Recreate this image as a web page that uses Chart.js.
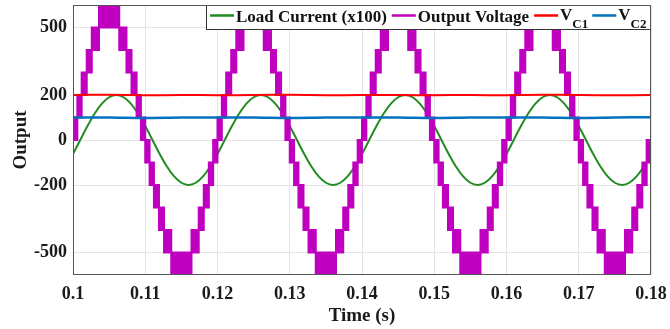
<!DOCTYPE html>
<html><head><meta charset="utf-8">
<script src="https://cdn.jsdelivr.net/npm/chart.js@4.4.1/dist/chart.umd.min.js"></script>
<style>html,body{margin:0;padding:0;background:#fff}#wrap{width:670px;height:329px}</style>
</head><body><div id="wrap"><canvas id="c" width="670" height="329"></canvas></div>
<script>
// ---------- data ----------
const xTicks = [0.1, 0.11, 0.12, 0.13, 0.14, 0.15, 0.16, 0.17, 0.18];
const xTickLabels = ['0.1', '0.11', '0.12', '0.13', '0.14', '0.15', '0.16', '0.17', '0.18'];
const yTicks = [-500, -200, 0, 200, 500];
const yTickLabels = ['-500', '-200', '0', '200', '500'];

// Output voltage: staircase bands (signal switches between voltLow and voltHigh from each time to the next)
const voltTime = [
  0.1000,0.1006,0.1012,0.1019,0.1026,0.1036,0.1064,0.1074,0.1081,0.1088,0.1094,
  0.1100,0.1106,0.1112,0.1119,0.1126,0.1136,0.1164,0.1174,0.1181,0.1188,0.1194,
  0.1200,0.1206,0.1212,0.1219,0.1226,0.1236,0.1264,0.1274,0.1281,0.1288,0.1294,
  0.1300,0.1306,0.1312,0.1319,0.1326,0.1336,0.1364,0.1374,0.1381,0.1388,0.1394,
  0.1400,0.1406,0.1412,0.1419,0.1426,0.1436,0.1464,0.1474,0.1481,0.1488,0.1494,
  0.1500,0.1506,0.1512,0.1519,0.1526,0.1536,0.1564,0.1574,0.1581,0.1588,0.1594,
  0.1600,0.1606,0.1612,0.1619,0.1626,0.1636,0.1664,0.1674,0.1681,0.1688,0.1694,
  0.1700,0.1706,0.1712,0.1719,0.1726,0.1736,0.1764,0.1774,0.1781,0.1788,0.1794,
  0.1800];
const voltLow = [
  0,100,200,300,400,500,400,300,200,100,0,
  -100,-200,-300,-400,-500,-600,-500,-400,-300,-200,-100,
  0,100,200,300,400,500,400,300,200,100,0,
  -100,-200,-300,-400,-500,-600,-500,-400,-300,-200,-100,
  0,100,200,300,400,500,400,300,200,100,0,
  -100,-200,-300,-400,-500,-600,-500,-400,-300,-200,-100,
  0,100,200,300,400,500,400,300,200,100,0,
  -100,-200,-300,-400,-500,-600,-500,-400,-300,-200,-100,
  -100];
const voltHigh = [
  100,200,300,400,500,600,500,400,300,200,100,
  0,-100,-200,-300,-400,-500,-400,-300,-200,-100,0,
  100,200,300,400,500,600,500,400,300,200,100,
  0,-100,-200,-300,-400,-500,-400,-300,-200,-100,0,
  100,200,300,400,500,600,500,400,300,200,100,
  0,-100,-200,-300,-400,-500,-400,-300,-200,-100,0,
  100,200,300,400,500,600,500,400,300,200,100,
  0,-100,-200,-300,-400,-500,-400,-300,-200,-100,0,
  0];

// Load current (x100)
const currentTime = [
  0.100,0.101,0.102,0.103,0.104,0.105,0.106,0.107,0.108,0.109,
  0.110,0.111,0.112,0.113,0.114,0.115,0.116,0.117,0.118,0.119,
  0.120,0.121,0.122,0.123,0.124,0.125,0.126,0.127,0.128,0.129,
  0.130,0.131,0.132,0.133,0.134,0.135,0.136,0.137,0.138,0.139,
  0.140,0.141,0.142,0.143,0.144,0.145,0.146,0.147,0.148,0.149,
  0.150,0.151,0.152,0.153,0.154,0.155,0.156,0.157,0.158,0.159,
  0.160,0.161,0.162,0.163,0.164,0.165,0.166,0.167,0.168,0.169,
  0.170,0.171,0.172,0.173,0.174,0.175,0.176,0.177,0.178,0.179,
  0.180];
const currentVal = [
  -62,0,62,118,162,190,200,190,162,118,
  62,0,-62,-118,-162,-190,-200,-190,-162,-118,
  -62,0,62,118,162,190,200,190,162,118,
  62,0,-62,-118,-162,-190,-200,-190,-162,-118,
  -62,0,62,118,162,190,200,190,162,118,
  62,0,-62,-118,-162,-190,-200,-190,-162,-118,
  -62,0,62,118,162,190,200,190,162,118,
  62,0,-62,-118,-162,-190,-200,-190,-162,-118,
  -62];

// Capacitor voltages
const vcTime = [0.100,0.105,0.110,0.115,0.120,0.125,0.130,0.135,0.140,0.145,0.150,0.155,0.160,0.165,0.170,0.175,0.180];
const vc1Val = [200,201,199,200,199,200,201,199,200,200,199,200,199,201,200,199,200];
const vc2Val = [100,100,98,100,100,100,98,100,100,100,98,100,100,100,98,100,101];

const seriesNames = ['Load Current (x100)', 'Output Voltage', 'V', 'V'];
const seriesSubs = ['', '', 'C1', 'C2'];
const colors = { current: '#228B22', volt: '#BF00BF', vc1: '#FF0000', vc2: '#0072BD' };

// ---------- chart ----------
const pts = (xs, ys) => xs.map((x, i) => ({ x: x, y: ys[i] }));
const serif = "'Liberation Serif','Times New Roman',serif";

const overlay = {
  id: 'overlay',
  afterDatasetsDraw(chart) {
    const { ctx, chartArea: a } = chart;
    ctx.save();
    // legend box inside plot (top-right)
    const bw = 445, bh = 25;
    const bx = a.right - bw, by = a.top;
    ctx.fillStyle = '#fff';
    ctx.fillRect(bx, by, bw, bh);
    ctx.strokeStyle = '#333';
    ctx.lineWidth = 1;
    ctx.strokeRect(bx + 0.5, by + 0.5, bw - 1, bh - 1);
    const items = [
      { c: colors.current }, { c: colors.volt }, { c: colors.vc1 }, { c: colors.vc2 }
    ];
    let x = bx + 4;
    const ly = by + 10.5;
    items.forEach((it, i) => {
      ctx.strokeStyle = it.c;
      ctx.lineWidth = 2.5;
      ctx.beginPath(); ctx.moveTo(x, ly); ctx.lineTo(x + 24, ly); ctx.stroke();
      x += 26;
      ctx.fillStyle = '#111';
      ctx.textBaseline = 'alphabetic';
      ctx.textAlign = 'left';
      if (seriesSubs[i]) {
        ctx.font = 'bold 17px ' + serif;
        ctx.fillText(seriesNames[i], x, by + 14.5);
        x += ctx.measureText(seriesNames[i]).width;
        ctx.font = 'bold 13px ' + serif;
        ctx.fillText(seriesSubs[i], x, by + 23);
        x += ctx.measureText(seriesSubs[i]).width + 4;
      } else {
        ctx.font = 'bold 17px ' + serif;
        ctx.fillText(seriesNames[i], x, by + 17);
        x += ctx.measureText(seriesNames[i]).width + 5;
      }
    });
    // axes frame
    ctx.strokeStyle = '#555';
    ctx.lineWidth = 1;
    ctx.strokeRect(a.left + 0.5, a.top + 0.5, a.right - a.left - 1, a.bottom - a.top - 1);
    ctx.restore();
  }
};

new Chart(document.getElementById('c'), {
  type: 'line',
  data: {
    datasets: [
      { label: 'VC2', data: pts(vcTime, vc2Val), borderColor: colors.vc2, borderWidth: 2.5, pointRadius: 0, tension: 0.3, order: 1 },
      { label: 'VC1', data: pts(vcTime, vc1Val), borderColor: colors.vc1, borderWidth: 2, pointRadius: 0, tension: 0.3, order: 2 },
      { label: 'Output Voltage (upper)', data: pts(voltTime, voltHigh), borderColor: colors.volt, borderWidth: 2, pointRadius: 0, stepped: 'before', order: 3 },
      { label: 'Output Voltage (lower)', data: pts(voltTime, voltLow), borderColor: colors.volt, borderWidth: 2, pointRadius: 0, stepped: 'before', fill: '-1', backgroundColor: colors.volt, order: 3 },
      { label: 'Load Current (x100)', data: pts(currentTime, currentVal), borderColor: colors.current, borderWidth: 2, pointRadius: 0, cubicInterpolationMode: 'monotone', order: 4 }
    ]
  },
  options: {
    responsive: false,
    animation: false,
    devicePixelRatio: 1,
    layout: { padding: { top: 5, right: 19, left: 0, bottom: 0 } },
    plugins: { legend: { display: false }, tooltip: { enabled: false }, filler: { propagate: false } },
    scales: {
      x: {
        type: 'linear', min: 0.1, max: 0.18,
        afterBuildTicks: s => { s.ticks = xTicks.map(v => ({ value: v })); },
        afterFit: s => { s.height = 54; s.paddingLeft = 0; s.paddingRight = 0; },
        ticks: { callback: (v, i) => xTickLabels[i], font: { family: serif, size: 18, weight: 'bold' }, color: '#1a1a1a', padding: 9, maxRotation: 0, autoSkip: false },
        grid: { color: '#e4e4e4', drawTicks: false },
        border: { display: false },
        title: { display: true, text: 'Time (s)', font: { family: serif, size: 19, weight: 'bold' }, color: '#1a1a1a', padding: { top: 0, bottom: 2 } }
      },
      y: {
        type: 'linear', min: -600, max: 600,
        afterBuildTicks: s => { s.ticks = yTicks.map(v => ({ value: v })); },
        afterFit: s => { s.width = 73; s.paddingTop = 0; s.paddingBottom = 0; },
        ticks: { callback: (v, i) => yTickLabels[i], font: { family: serif, size: 18, weight: 'bold' }, color: '#1a1a1a', padding: 6, autoSkip: false },
        grid: { color: '#e4e4e4', drawTicks: false },
        border: { display: false },
        title: { display: true, text: 'Output', font: { family: serif, size: 19, weight: 'bold' }, color: '#1a1a1a', padding: { top: 10, bottom: 0 } }
      }
    }
  },
  plugins: [overlay]
});
</script>
</body></html>
